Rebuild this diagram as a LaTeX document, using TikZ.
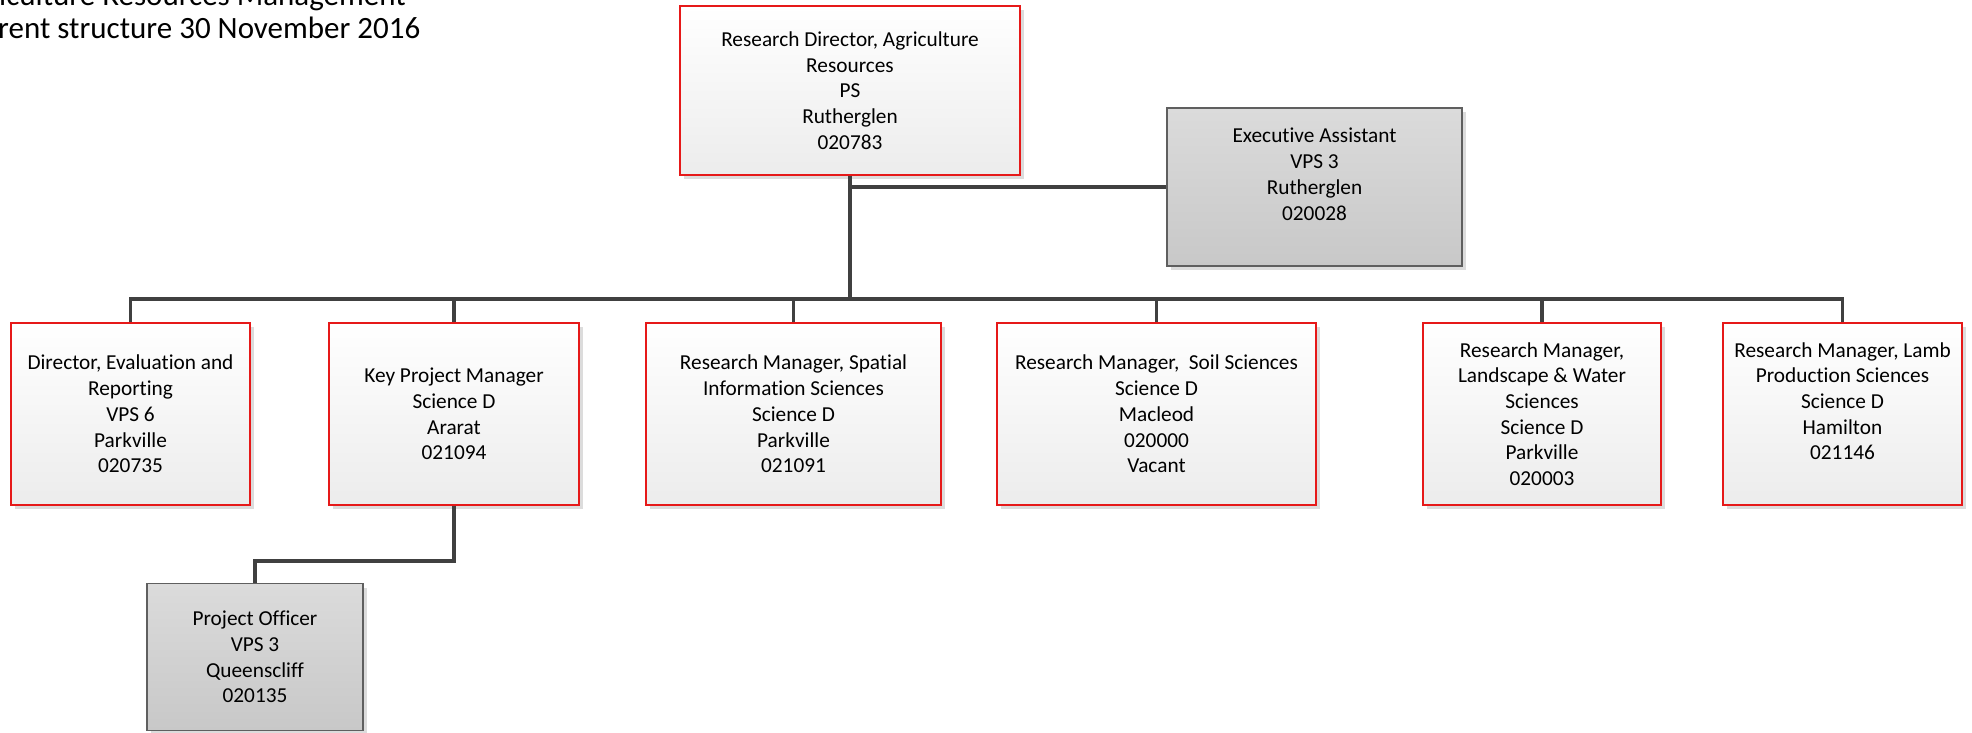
\documentclass[tikz,border=0pt]{standalone}
\usepackage{fontspec}
\setmainfont{Carlito}[Ligatures=NoCommon]
\usetikzlibrary{shadows}
\definecolor{redline}{RGB}{230,25,25}
\definecolor{connline}{RGB}{64,64,64}
\definecolor{grayline}{RGB}{95,95,95}
\definecolor{shadowgray}{RGB}{220,220,220}
\definecolor{redtop}{RGB}{255,255,255}
\definecolor{redbot}{RGB}{236,236,236}
\definecolor{graytop}{RGB}{219,219,219}
\definecolor{graybot}{RGB}{200,200,200}
\tikzset{
  boxbase/.style={inner sep=0pt, align=center, font=\fontsize{21.3}{25.7}\selectfont,
    line width=1.2pt, minimum height=182pt,
    drop shadow={shadow xshift=4pt, shadow yshift=-4pt, fill=shadowgray, opacity=1}},
  redbox/.style={boxbase, draw=redline, top color=redtop, bottom color=redbot},
  greybox/.style={boxbase, draw=grayline, top color=graytop, bottom color=graybot},
  conn/.style={draw=connline, line width=3.2pt},
  titletext/.style={inner sep=0pt, font=\fontsize{31}{33}\selectfont}
}
\begin{document}
\begin{tikzpicture}[x=1pt,y=-1pt]
\useasboundingbox (0,0) rectangle (1972,732);
% title (clipped at the picture edge)
\node[titletext, anchor=base west] (title1) at (-1,5) {iculture Resources Management};
\node[titletext, anchor=base west] (title2) at (-2,38) {rent structure 30 November 2016};

% boxes
\node[redbox, minimum width=340pt, minimum height=169pt] (top) at (850,90.5)
  {Research Director, Agriculture\\Resources\\PS\\Rutherglen\\020783};
\node[greybox, minimum width=295pt, minimum height=158pt] (exec) at (1314.5,187)
  {Executive Assistant\\VPS 3\\Rutherglen\\020028\\~};
\node[redbox, minimum width=239pt] (dir) at (130.5,414)
  {Director, Evaluation and\\Reporting\\VPS 6\\Parkville\\020735};
\node[redbox, minimum width=250pt] (kpm) at (454,414)
  {Key Project Manager\\Science D\\Ararat\\021094};
\node[redbox, minimum width=295pt] (spat) at (793.5,414)
  {Research Manager, Spatial\\Information Sciences\\Science D\\Parkville\\021091};
\node[redbox, minimum width=319pt] (soil) at (1156.5,414)
  {Research Manager,\ \ Soil Sciences\\Science D\\Macleod\\020000\\Vacant};
\node[redbox, minimum width=238pt] (land) at (1542,414)
  {Research Manager,\\Landscape \& Water\\Sciences\\Science D\\Parkville\\020003};
\node[redbox, minimum width=239pt] (lamb) at (1842.5,414)
  {Research Manager, Lamb\\Production Sciences\\Science D\\Hamilton\\021146\\~};
\node[greybox, minimum width=216pt, minimum height=147pt] (po) at (255,657)
  {Project Officer\\VPS 3\\Queenscliff\\020135};

% connectors
\coordinate (busL) at (130.5,299);
\coordinate (busR) at (1842.5,299);
\draw[conn] (top.south) -- (top.south |- busL);
\draw[conn] (top.south |- exec.west) -- (exec.west);
\draw[conn] (dir.north) -- (busL) -- (busR) -- (lamb.north);
\draw[conn] (kpm.north) -- (kpm.north |- busL);
\draw[conn] (spat.north) -- (spat.north |- busL);
\draw[conn] (soil.north) -- (soil.north |- busL);
\draw[conn] (land.north) -- (land.north |- busL);
\coordinate (pobend) at (454,561);
\draw[conn] (kpm.south) -- (pobend) -| (po.north);
\end{tikzpicture}
\end{document}
